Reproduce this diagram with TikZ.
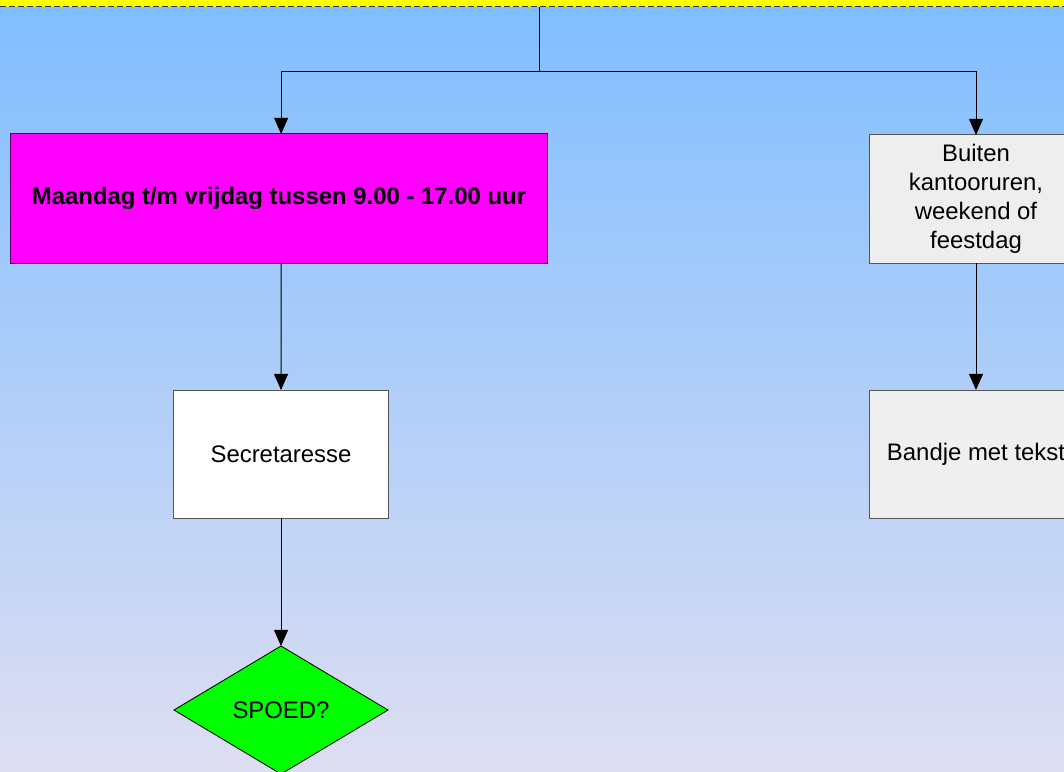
\documentclass[tikz,border=0pt]{standalone}
\usepackage{fontspec}
\setmainfont{Liberation Sans}
\usetikzlibrary{arrows.meta,shapes.geometric}
\definecolor{skytop}{RGB}{128,190,255}
\definecolor{skybottom}{RGB}{222,222,242}
\definecolor{boxgrey}{RGB}{238,238,238}
\definecolor{edgegrey}{RGB}{85,85,85}
\definecolor{edgepurple}{RGB}{90,0,90}
\definecolor{daymagenta}{RGB}{255,0,255}
\definecolor{baryellow}{RGB}{255,255,0}
\definecolor{spoedgreen}{RGB}{0,255,0}

\tikzset{
    flowbox/.style={rectangle, draw=edgegrey, line width=0.7pt, inner sep=2pt,
        outer sep=0pt, align=center, font=\fontsize{17}{20.5}\selectfont},
    flowarrow/.style={-{Triangle[length=11.5pt,width=10pt]}, black, line width=0.7pt},
}

\begin{document}
\begin{tikzpicture}[x=0.025cm, y=-0.025cm]
    % Background
    \clip (0,0) rectangle (1064,771);
    \shade[top color=skytop, bottom color=skybottom] (0,0) rectangle (1064,771);

    % Yellow bar at the top
    \fill[baryellow] (0,0) rectangle (1064,6.5);
    \draw[black!80, line width=0.7pt, dash pattern=on 4.3pt off 2.1pt] (0,6.5) -- (1064,6.5);

    % Boxes
    \node[flowbox, fill=daymagenta, draw=edgepurple, minimum width=13.4cm, minimum height=3.225cm,
        font=\fontsize{17}{20.5}\selectfont\bfseries] (tijd) at (279,198.5)
        {Maandag t/m vrijdag tussen 9.00 - 17.00 uur};
    \node[flowbox, fill=boxgrey, minimum width=5.3cm, minimum height=3.2cm] (buiten) at (976,199)
        {Buiten\\kantooruren,\\weekend of\\feestdag};
    \node[flowbox, fill=white, minimum width=5.35cm, minimum height=3.2cm] (secr) at (281,454)
        {Secretaresse};
    \node[flowbox, fill=boxgrey!95!white, minimum width=5.3cm, minimum height=3.2cm] (bandje) at (976,454)
        {Bandje met tekst};

    % Decision
    \node[diamond, draw=black, line width=0.6pt, fill=spoedgreen, inner sep=0pt, outer sep=0pt,
        minimum width=5.35cm, minimum height=3.2cm, font=\fontsize{17}{20.5}\selectfont] (spoed) at (281,710)
        {SPOED?};

    % Connectors
    \coordinate (start) at (539,6.5);
    \coordinate (split) at (539,71);
    \draw[black, line width=0.7pt] (start) -- (split);
    \draw[flowarrow] (split) -| ([xshift=1.5pt]tijd.north);
    \draw[flowarrow] (split) -| (buiten.north);
    \draw[flowarrow] ([xshift=1.5pt]tijd.south) -- (secr.north);
    \draw[flowarrow] (buiten.south) -- (bandje.north);
    \draw[flowarrow] (secr.south) -- (spoed.north);
\end{tikzpicture}
\end{document}
